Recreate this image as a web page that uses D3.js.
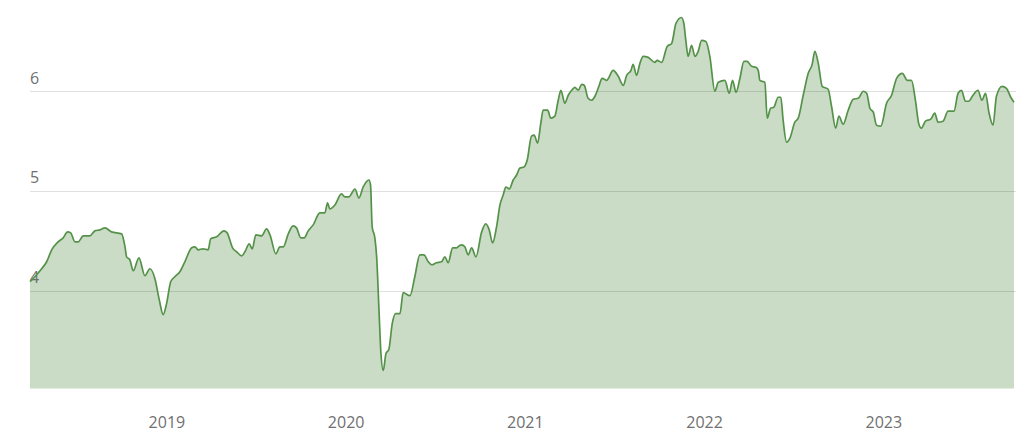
<!DOCTYPE html>
<html>
<head>
<meta charset="utf-8">
<script src="https://cdn.jsdelivr.net/npm/d3@7"></script>
<style>
  html, body { margin: 0; padding: 0; background: #fff; }
  svg { display: block; }
  text { font-family: "Open Sans", "Noto Sans", sans-serif; }
</style>
</head>
<body>
<svg id="chart" width="1024" height="438"></svg>
<script>
// Time in decimal years
const years = [
  2018.239, 2018.266, 2018.304, 2018.332, 2018.360, 2018.396, 2018.424, 2018.449, 2018.466, 2018.490,
  2018.508, 2018.536, 2018.573, 2018.601, 2018.629, 2018.657, 2018.694, 2018.750, 2018.769, 2018.778,
  2018.796, 2018.815, 2018.847, 2018.880, 2018.908, 2018.936, 2018.960, 2018.982, 2019.001, 2019.024,
  2019.047, 2019.075, 2019.103, 2019.141, 2019.159, 2019.177, 2019.205, 2019.233, 2019.247, 2019.280,
  2019.321, 2019.339, 2019.369, 2019.392, 2019.420, 2019.438, 2019.462, 2019.479, 2019.499, 2019.531,
  2019.559, 2019.578, 2019.611, 2019.633, 2019.652, 2019.680, 2019.707, 2019.726, 2019.750, 2019.769,
  2019.791, 2019.819, 2019.856, 2019.884, 2019.899, 2019.912, 2019.940, 2019.977, 2019.996, 2020.018,
  2020.052, 2020.074, 2020.098, 2020.130, 2020.139, 2020.148, 2020.163, 2020.173, 2020.186, 2020.197,
  2020.210, 2020.225, 2020.241, 2020.260, 2020.279, 2020.303, 2020.321, 2020.359, 2020.386, 2020.414,
  2020.437, 2020.461, 2020.480, 2020.507, 2020.535, 2020.554, 2020.572, 2020.597, 2020.619, 2020.634,
  2020.647, 2020.665, 2020.684, 2020.703, 2020.727, 2020.759, 2020.782, 2020.801, 2020.820, 2020.842,
  2020.861, 2020.879, 2020.894, 2020.913, 2020.935, 2020.954, 2020.972, 2020.995, 2021.013, 2021.037,
  2021.052, 2021.071, 2021.089, 2021.102, 2021.127, 2021.145, 2021.167, 2021.186, 2021.201, 2021.223,
  2021.242, 2021.261, 2021.279, 2021.298, 2021.317, 2021.331, 2021.353, 2021.372, 2021.391, 2021.413,
  2021.431, 2021.456, 2021.493, 2021.521, 2021.549, 2021.568, 2021.592, 2021.604, 2021.623, 2021.642,
  2021.660, 2021.688, 2021.725, 2021.738, 2021.763, 2021.794, 2021.819, 2021.843, 2021.874, 2021.887,
  2021.898, 2021.911, 2021.930, 2021.949, 2021.967, 2021.986, 2022.010, 2022.032, 2022.060, 2022.079,
  2022.116, 2022.140, 2022.159, 2022.178, 2022.200, 2022.222, 2022.240, 2022.265, 2022.289, 2022.302,
  2022.311, 2022.339, 2022.352, 2022.371, 2022.389, 2022.413, 2022.428, 2022.441, 2022.460, 2022.479,
  2022.506, 2022.525, 2022.553, 2022.581, 2022.603, 2022.618, 2022.637, 2022.659, 2022.692, 2022.711,
  2022.734, 2022.752, 2022.776, 2022.804, 2022.832, 2022.860, 2022.888, 2022.907, 2022.925, 2022.944,
  2022.962, 2022.986, 2023.018, 2023.046, 2023.074, 2023.106, 2023.134, 2023.157, 2023.179, 2023.197,
  2023.212, 2023.235, 2023.264, 2023.287, 2023.305, 2023.333, 2023.361, 2023.394, 2023.417, 2023.436,
  2023.458, 2023.476, 2023.500, 2023.528, 2023.550, 2023.570, 2023.590, 2023.612, 2023.631, 2023.662,
  2023.687, 2023.711, 2023.729
];

const values = [
  4.09, 4.14, 4.22, 4.29, 4.41, 4.49, 4.53, 4.59, 4.58, 4.49,
  4.49, 4.55, 4.55, 4.60, 4.61, 4.63, 4.59, 4.57, 4.44, 4.34,
  4.31, 4.20, 4.33, 4.15, 4.22, 4.12, 3.91, 3.76, 3.87, 4.09,
  4.14, 4.19, 4.29, 4.43, 4.44, 4.41, 4.42, 4.41, 4.52, 4.54,
  4.60, 4.58, 4.43, 4.39, 4.35, 4.39, 4.47, 4.42, 4.56, 4.55,
  4.62, 4.56, 4.37, 4.44, 4.44, 4.57, 4.65, 4.63, 4.53, 4.53,
  4.60, 4.66, 4.78, 4.78, 4.88, 4.82, 4.86, 4.97, 4.94, 4.94,
  5.02, 4.93, 5.04, 5.11, 5.06, 4.64, 4.53, 4.34, 3.81, 3.37,
  3.20, 3.37, 3.41, 3.67, 3.77, 3.77, 3.98, 3.95, 4.14, 4.36,
  4.36, 4.29, 4.26, 4.28, 4.29, 4.34, 4.28, 4.43, 4.43, 4.45,
  4.46, 4.44, 4.36, 4.43, 4.34, 4.59, 4.67, 4.61, 4.48, 4.64,
  4.86, 4.96, 5.04, 5.02, 5.11, 5.16, 5.23, 5.24, 5.31, 5.55,
  5.56, 5.48, 5.68, 5.81, 5.81, 5.73, 5.75, 5.91, 6.01, 5.88,
  5.96, 6.01, 6.04, 6.01, 6.07, 6.06, 5.93, 5.91, 5.95, 6.05,
  6.13, 6.11, 6.21, 6.15, 6.06, 6.16, 6.21, 6.27, 6.16, 6.28,
  6.35, 6.34, 6.29, 6.31, 6.29, 6.45, 6.48, 6.68, 6.74, 6.68,
  6.51, 6.35, 6.46, 6.35, 6.40, 6.51, 6.50, 6.35, 6.00, 6.09,
  6.11, 5.98, 6.11, 5.99, 6.13, 6.30, 6.30, 6.25, 6.24, 6.21,
  6.11, 6.09, 5.73, 5.83, 5.84, 5.94, 5.94, 5.71, 5.49, 5.53,
  5.69, 5.73, 5.96, 6.18, 6.27, 6.40, 6.28, 6.05, 6.02, 5.85,
  5.63, 5.75, 5.67, 5.81, 5.92, 5.93, 6.00, 5.98, 5.83, 5.79,
  5.66, 5.65, 5.88, 5.96, 6.13, 6.18, 6.11, 6.11, 5.91, 5.68,
  5.63, 5.70, 5.72, 5.78, 5.69, 5.70, 5.80, 5.80, 5.98, 6.01,
  5.90, 5.90, 5.96, 6.01, 5.91, 5.98, 5.78, 5.66, 5.95, 6.05,
  6.03, 5.94, 5.89
];

const yTicks = [4, 5, 6];
const xTicks = [2019, 2020, 2021, 2022, 2023];
const xTickLabels = ["2019", "2020", "2021", "2022", "2023"];

const data = years.map((t, i) => ({ t, v: values[i] }));

const svg = d3.select("#chart");
const left = 30, right = 1014;

const x = d3.scaleLinear()
  .domain(d3.extent(years))
  .range([left, right]);

const y = d3.scaleLinear()
  .domain([3.02, 6.8])
  .range([388.4, 11.5]);

const curve = d3.curveMonotoneX;

// area
svg.append("path")
  .datum(data)
  .attr("fill", "#cadcc6")
  .attr("d", d3.area().x(d => x(d.t)).y0(y(3.02)).y1(d => y(d.v)).curve(curve));

// gridlines
svg.append("g")
  .selectAll("line")
  .data(yTicks)
  .join("line")
  .attr("x1", left)
  .attr("x2", right + 2)
  .attr("y1", d => Math.round(y(d)) + 0.5)
  .attr("y2", d => Math.round(y(d)) + 0.5)
  .attr("stroke", "rgba(0,0,0,0.12)")
  .attr("stroke-width", 1.2);

// y tick labels
svg.append("g")
  .selectAll("text")
  .data(yTicks)
  .join("text")
  .attr("x", left)
  .attr("y", d => y(d) - 7.5)
  .attr("fill", "#707070")
  .attr("font-size", 16)
  .text(d => d);

// line
svg.append("path")
  .datum(data)
  .attr("fill", "none")
  .attr("stroke", "#559249")
  .attr("stroke-width", 1.7)
  .attr("stroke-linejoin", "round")
  .attr("d", d3.line().x(d => x(d.t)).y(d => y(d.v)).curve(curve));

// x axis labels
const xAxis = d3.axisBottom(x)
  .tickValues(xTicks)
  .tickFormat((d, i) => xTickLabels[i])
  .tickSize(0)
  .tickPadding(0);

const gx = svg.append("g")
  .attr("transform", "translate(0,417)")
  .call(xAxis);
gx.select(".domain").remove();
gx.selectAll("text")
  .attr("fill", "#707070")
  .attr("font-size", 16)
  .attr("font-family", "'Open Sans', 'Noto Sans', sans-serif");
</script>
</body>
</html>
